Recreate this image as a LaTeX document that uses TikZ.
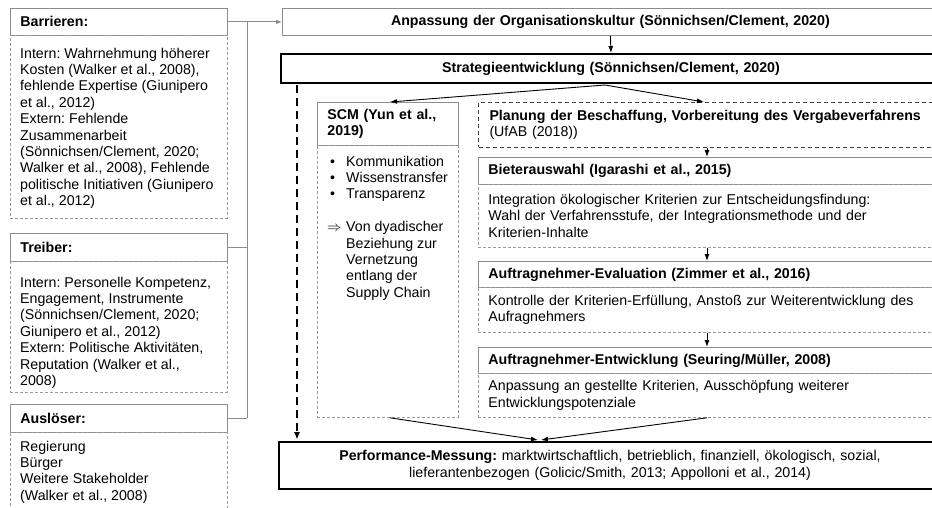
\documentclass[tikz,border=0pt]{standalone}
\usepackage{fontspec}
\setmainfont{Liberation Sans}
\usetikzlibrary{arrows.meta}
\definecolor{boxgray}{HTML}{8C8C8C}
\definecolor{dashgray}{HTML}{9A9A9A}
\definecolor{linegray}{HTML}{8C8C8C}
\newcommand\fs{\fontsize{14.2}{16.4}\selectfont\frenchspacing}
\begin{document}
\begin{tikzpicture}[x=1pt,y=-1pt,
  every node/.style={font=\fs},
  hbox/.style={draw=boxgray, line width=0.8pt, anchor=north west, inner xsep=10pt, inner ysep=0pt, align=left, font=\fs\bfseries},
  dbox/.style={draw=dashgray, line width=0.8pt, dash pattern=on 3pt off 2pt, anchor=north west, inner xsep=10pt, inner ysep=0pt, align=left},
  pbox/.style={draw=black!75, line width=1pt, dash pattern=on 4pt off 3pt, anchor=north west, inner xsep=11pt, inner ysep=0pt, align=left},
  tbox/.style={draw=black, line width=2pt, anchor=north west, inner sep=0pt, align=center},
  txt/.style={anchor=north west, inner sep=0pt, align=left},
  arr/.style={draw=black, line width=0.9pt, -{Latex[length=7pt,width=5pt]}},
  darr/.style={draw=black, line width=1.6pt, dash pattern=on 8pt off 5pt, -{Latex[length=8pt,width=6pt]}},
  gline/.style={draw=linegray, line width=0.8pt},
  garr/.style={draw=linegray, line width=0.8pt, -{Latex[length=6pt,width=4.5pt]}}
]
\useasboundingbox (0,0) rectangle (932,508);
\clip (0,0) rectangle (932,508);

% left column
\node[hbox, text width=197pt, minimum height=27pt] (barH) at (10,8) {Barrieren:};
\node[dbox, minimum width=217pt, minimum height=183pt] (barB) at (10,35) {};
\node[txt] (barT) at (20,47.7) {Intern: Wahrnehmung höherer\\
Kosten (Walker et al., 2008),\\
fehlende Expertise (Giunipero\\
et al., 2012)\\
Extern: Fehlende\\
Zusammenarbeit\\
(Sönnichsen/Clement, 2020;\\
Walker et al., 2008), Fehlende\\
politische Initiativen (Giunipero\\
et al., 2012)};

\node[hbox, text width=197pt, minimum height=28pt] (treH) at (10,233) {Treiber:};
\node[dbox, minimum width=217pt, minimum height=131pt] (treB) at (10,261) {};
\node[txt] (treT) at (20,276.7) {Intern: Personelle Kompetenz,\\
Engagement, Instrumente\\
(Sönnichsen/Clement, 2020;\\
Giunipero et al., 2012)\\
Extern: Politische Aktivitäten,\\
Reputation (Walker et al.,\\
2008)};

\node[hbox, text width=197pt, minimum height=28pt] (ausH) at (10,404) {Auslöser:};
\node[dbox, minimum width=217pt, minimum height=100pt] (ausB) at (10,432) {};
\node[txt] (ausT) at (20,440.7) {Regierung\\
Bürger\\
Weitere Stakeholder\\
(Walker et al., 2008)};

% top boxes
\node[hbox, text width=636pt, minimum height=27pt, align=center] (anp) at (282,8) {Anpassung der Organisationskultur (Sönnichsen/Clement, 2020)};
\node[tbox, text width=660pt, minimum height=29pt, font=\fs\bfseries] (strat) at (280,53) {Strategieentwicklung (Sönnichsen/Clement, 2020)};

% SCM
\node[hbox, text width=121pt, minimum height=43pt] (scmH) at (317,102) {SCM (Yun et al.,\\2019)};
\node[dbox, minimum width=141pt, minimum height=272pt] (scmB) at (317,145) {};
\node[txt] (scmT) at (327,155.7) {\makebox[19pt][l]{\hspace{3pt}•}Kommunikation\\
\makebox[19pt][l]{\hspace{3pt}•}Wissenstransfer\\
\makebox[19pt][l]{\hspace{3pt}•}Transparenz\\
\mbox{}\\
\makebox[19pt][l]{$\Rightarrow$}Von dyadischer\\
\hspace*{19pt}Beziehung zur\\
\hspace*{19pt}Vernetzung\\
\hspace*{19pt}entlang der\\
\hspace*{19pt}Supply Chain};

% right column
\node[pbox, text width=445pt, minimum height=45pt] (plan) at (478,102) {\textbf{Planung der Beschaffung, Vorbereitung des Vergabeverfahrens}\\(UfAB (2018))};
\node[hbox, text width=447pt, minimum height=27pt, inner xsep=10pt] (bieH) at (478,157) {Bieterauswahl (Igarashi et al., 2015)};
\node[dbox, text width=447pt, minimum height=63pt] (bieB) at (478,184) {Integration ökologischer Kriterien zur Entscheidungsfindung:\\
Wahl der Verfahrensstufe, der Integrationsmethode und der\\
Kriterien-Inhalte};
\node[hbox, text width=447pt, minimum height=26pt] (evaH) at (478,261) {Auftragnehmer-Evaluation (Zimmer et al., 2016)};
\node[dbox, text width=447pt, minimum height=45pt] (evaB) at (478,287) {Kontrolle der Kriterien-Erfüllung, Anstoß zur Weiterentwicklung des\\
Aufragnehmers};
\node[hbox, text width=447pt, minimum height=26pt] (entH) at (478,347) {Auftragnehmer-Entwicklung (Seuring/Müller, 2008)};
\node[dbox, text width=447pt, minimum height=44pt] (entB) at (478,373) {Anpassung an gestellte Kriterien, Ausschöpfung weiterer\\
Entwicklungspotenziale};

% performance
\node[tbox, text width=662pt, minimum height=47pt] (perf) at (278,441) {\textbf{Performance-Messung:} marktwirtschaftlich, betrieblich, finanziell, ökologisch, sozial,\\
lieferantenbezogen (Golicic/Smith, 2013; Appolloni et al., 2014)};

% connectors left
\coordinate (jx) at (247,0);
\draw[garr] (barH.east) -- (anp.west);
\draw[gline] (barH.east -| jx) -- (ausH.east -| jx);
\draw[gline] (treH.east) -- (treH.east -| jx);
\draw[gline] (ausH.east) -- (ausH.east -| jx);

% connectors right
\coordinate (cx) at (707,0);
\draw[arr] (anp.south) -- (strat.north);
\draw[arr] ([xshift=-6pt,yshift=-1pt]strat.south) -- ([xshift=2pt]scmH.north);
\draw[arr] ([xshift=-6pt,yshift=-1pt]strat.south) -- ([xshift=-8pt]plan.north);
\draw[darr] ([xshift=17pt,yshift=-1pt]strat.south west) -- ([xshift=19pt,yshift=1pt]perf.north west);
\draw[arr] (plan.south -| cx) -- (bieH.north -| cx);
\draw[arr] (bieB.south -| cx) -- (evaH.north -| cx);
\draw[arr] (evaB.south -| cx) -- (entH.north -| cx);
\draw[arr] ([xshift=2pt]scmB.south) -- ([xshift=-72pt,yshift=1pt]perf.north);
\draw[arr] (entB.south -| cx) -- ([xshift=-69pt,yshift=1pt]perf.north);
\end{tikzpicture}
\end{document}
